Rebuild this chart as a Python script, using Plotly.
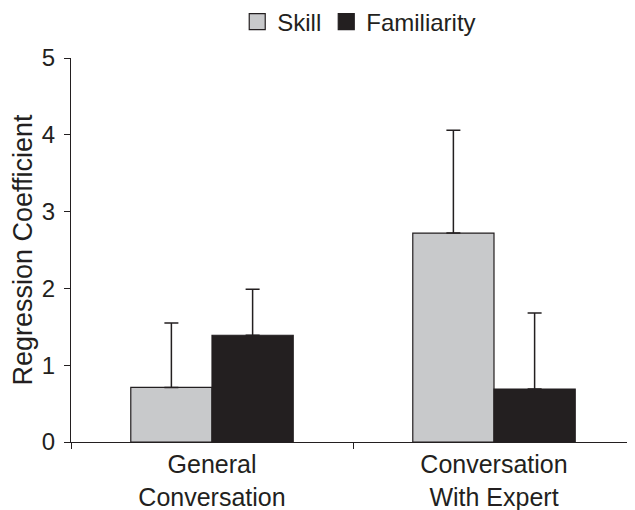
import plotly.graph_objects as go

categories = ["General<br>Conversation", "Conversation<br>With Expert"]
skill = [0.71, 2.72]
skill_err = [0.84, 1.34]
familiarity = [1.39, 0.69]
familiarity_err = [0.60, 0.99]
y_ticks = [0, 1, 2, 3, 4, 5]

ink = "#231f20"
gray = "#c8c9cb"
font = dict(family="Liberation Sans, Arial, sans-serif", color=ink, size=24)

fig = go.Figure()
fig.add_trace(go.Bar(
    name="Skill", x=categories, y=skill, showlegend=False,
    marker=dict(color=gray, line=dict(color=ink, width=1.2)),
    error_y=dict(type="data", array=skill_err, symmetric=False, arrayminus=[0, 0],
                 color=ink, thickness=1.5, width=7),
))
fig.add_trace(go.Bar(
    name="Familiarity", x=categories, y=familiarity, showlegend=False,
    marker=dict(color=ink, line=dict(color=ink, width=1.2)),
    error_y=dict(type="data", array=familiarity_err, symmetric=False, arrayminus=[0, 0],
                 color=ink, thickness=1.5, width=7),
))
# legend entries (square swatches)
for name, col in [("Skill", gray), ("Familiarity", ink)]:
    fig.add_trace(go.Scatter(
        name=name, x=[None], y=[None], mode="markers",
        marker=dict(symbol="square", size=16, color=col, line=dict(color=ink, width=1.2)),
    ))

fig.update_layout(
    width=635, height=510,
    margin=dict(l=63, r=8, t=50, b=76, autoexpand=False),
    paper_bgcolor="white", plot_bgcolor="white",
    font=font,
    barmode="group", bargap=0.424, bargroupgap=0,
    showlegend=True,
    legend=dict(orientation="h", xref="container", yref="container",
                x=0.361, xanchor="left", y=0.9725, yanchor="middle",
                font=dict(size=24, color=ink), itemwidth=30, traceorder="normal",
                bgcolor="rgba(0,0,0,0)"),
    xaxis=dict(showline=True, linecolor=ink, linewidth=1.2, ticks="outside",
               tickson="boundaries", ticklen=6, tickcolor=ink, showgrid=False,
               tickfont=dict(size=25), range=[-0.5, 1.5], automargin=False,
               ticklabelstandoff=0),
    yaxis=dict(showline=True, linecolor=ink, linewidth=1.2, ticks="outside",
               ticklen=6, tickcolor=ink, showgrid=False, zeroline=False,
               range=[0, 5], tickvals=y_ticks, tickfont=dict(size=24),
               automargin=False, ticklabelstandoff=4,
               title=dict(text="Regression Coefficient", font=dict(size=27), standoff=3)),
)

fig.write_html("out.html")
